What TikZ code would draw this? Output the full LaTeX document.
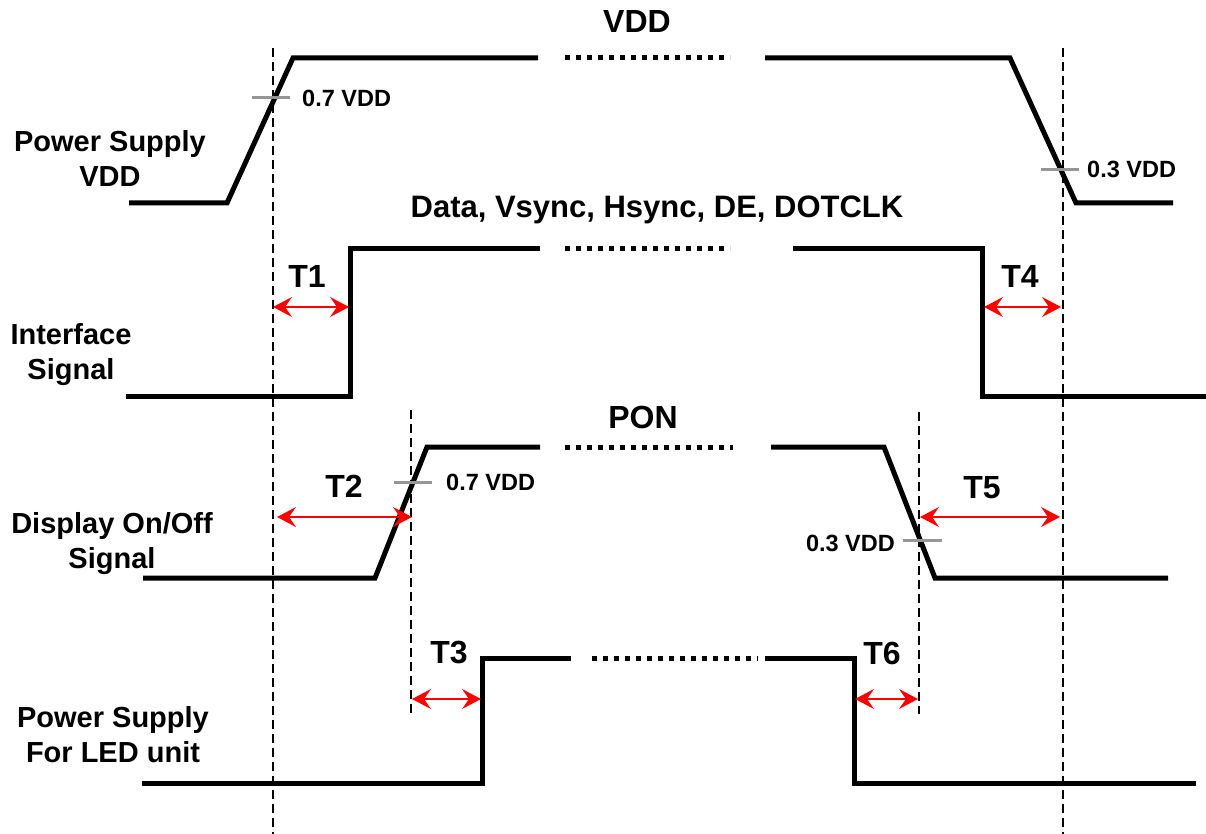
\documentclass[tikz,border=0pt]{standalone}
\usepackage{fontspec}
\setmainfont{Liberation Sans}
\usetikzlibrary{arrows.meta}
\definecolor{tickgray}{RGB}{150,150,150}

\begin{document}
\begin{tikzpicture}[x=1pt,y=-1pt,
  wave/.style={line width=5pt},
  gap/.style={line width=5pt,dash pattern=on 5pt off 6pt},
  guide/.style={line width=1.6pt,dash pattern=on 9pt off 5pt},
  level/.style={line width=3pt,tickgray},
  span/.style={red,line width=1.5pt,{Stealth[length=19pt,width=20pt,inset=7pt]}-{Stealth[length=19pt,width=20pt,inset=7pt]}},
  lbl/.style={font=\bfseries\fontsize{29}{35}\selectfont,inner sep=0pt,align=center},
  title/.style={font=\bfseries\fontsize{32}{38}\selectfont,inner sep=0pt,anchor=base},
  small/.style={font=\bfseries\fontsize{23.5}{27}\selectfont,inner sep=0pt}]
\useasboundingbox (0,0) rectangle (1206,834);

% guide lines
\coordinate (gA1) at (273,48);  \coordinate (gA2) at (273,834);
\coordinate (gB1) at (1063,48); \coordinate (gB2) at (1063,834);
\coordinate (gC1) at (411,410); \coordinate (gC2) at (411,716);
\coordinate (gD1) at (919,412); \coordinate (gD2) at (919,714);
\draw[guide] (gA1) -- (gA2);
\draw[guide] (gB1) -- (gB2);
\draw[guide] (gC1) -- (gC2);
\draw[guide] (gD1) -- (gD2);

% power supply VDD
\draw[wave] (129,203) -- (227,203) -- (293,58) -- (538,58);
\draw[gap] (565,58) -- (730,58);
\draw[wave] (765,58) -- (1010,58) -- (1076,203) -- (1173,203);
\draw[level] (252,98) -- (290,98);
\draw[level] (1041,170) -- (1079,170);
\node[small,anchor=base west] (v07a) at (302,107) {0.7 VDD};
\node[small,anchor=base west] (v03a) at (1087,178) {0.3 VDD};
\node[title] (tvdd) at (637,33) {VDD};

% interface signal
\draw[wave] (126,396) -- (350,396) -- (350,248) -- (540,248);
\draw[gap] (565,248) -- (730,248);
\draw[wave] (793,248) -- (982,248) -- (982,396) -- (1206,396);
\node[title,font=\bfseries\fontsize{31}{37}\selectfont] (tdata) at (657,218) {Data, Vsync, Hsync, DE, DOTCLK};

% display on/off
\draw[wave] (143,578) -- (375,578) -- (427,447) -- (540,447);
\draw[gap] (565,447) -- (733,447);
\draw[wave] (771,447) -- (884,447) -- (935,578) -- (1168,578);
\draw[level] (394,482) -- (432,482);
\draw[level] (903,540) -- (942,540);
\node[small,anchor=base west] (v07b) at (446,490) {0.7 VDD};
\node[small,anchor=base east] (v03b) at (895,551) {0.3 VDD};
\node[title] (tpon) at (643,428) {PON};

% LED supply
\draw[wave] (142,783) -- (482,783) -- (482,658) -- (571,658);
\draw[gap] (592,658) -- (758,658);
\draw[wave] (765,658) -- (854,658) -- (854,783) -- (1196,783);

% timing spans
\coordinate (s1a) at (273,307); \coordinate (s1b) at (349,307);
\coordinate (s4a) at (984,307); \coordinate (s4b) at (1061,307);
\coordinate (s2a) at (277,517); \coordinate (s2b) at (412,517);
\coordinate (s5a) at (920,517); \coordinate (s5b) at (1060,517);
\coordinate (s3a) at (412,699); \coordinate (s3b) at (481,699);
\coordinate (s6a) at (855,699); \coordinate (s6b) at (918,699);
\draw[span] (s1a) -- (s1b);
\draw[span] (s4a) -- (s4b);
\draw[span] (s2a) -- (s2b);
\draw[span] (s5a) -- (s5b);
\draw[span] (s3a) -- (s3b);
\draw[span] (s6a) -- (s6b);
\node[title] (t1) at (307,287) {T1};
\node[title] (t4) at (1020,287) {T4};
\node[title] (t2) at (344,497) {T2};
\node[title] (t5) at (982,498) {T5};
\node[title] (t3) at (449,663) {T3};
\node[title] (t6) at (882,664) {T6};

% signal names
\node[lbl,anchor=base] (nvdd) at (110,187) {Power Supply\\VDD};
\node[lbl,anchor=base] (nif) at (71,379) {Interface\\Signal};
\node[lbl,anchor=base] (npon) at (112,568) {Display On/Off\\Signal};
\node[lbl,anchor=base] (nled) at (113,762) {Power Supply\\For LED unit};
\end{tikzpicture}
\end{document}
